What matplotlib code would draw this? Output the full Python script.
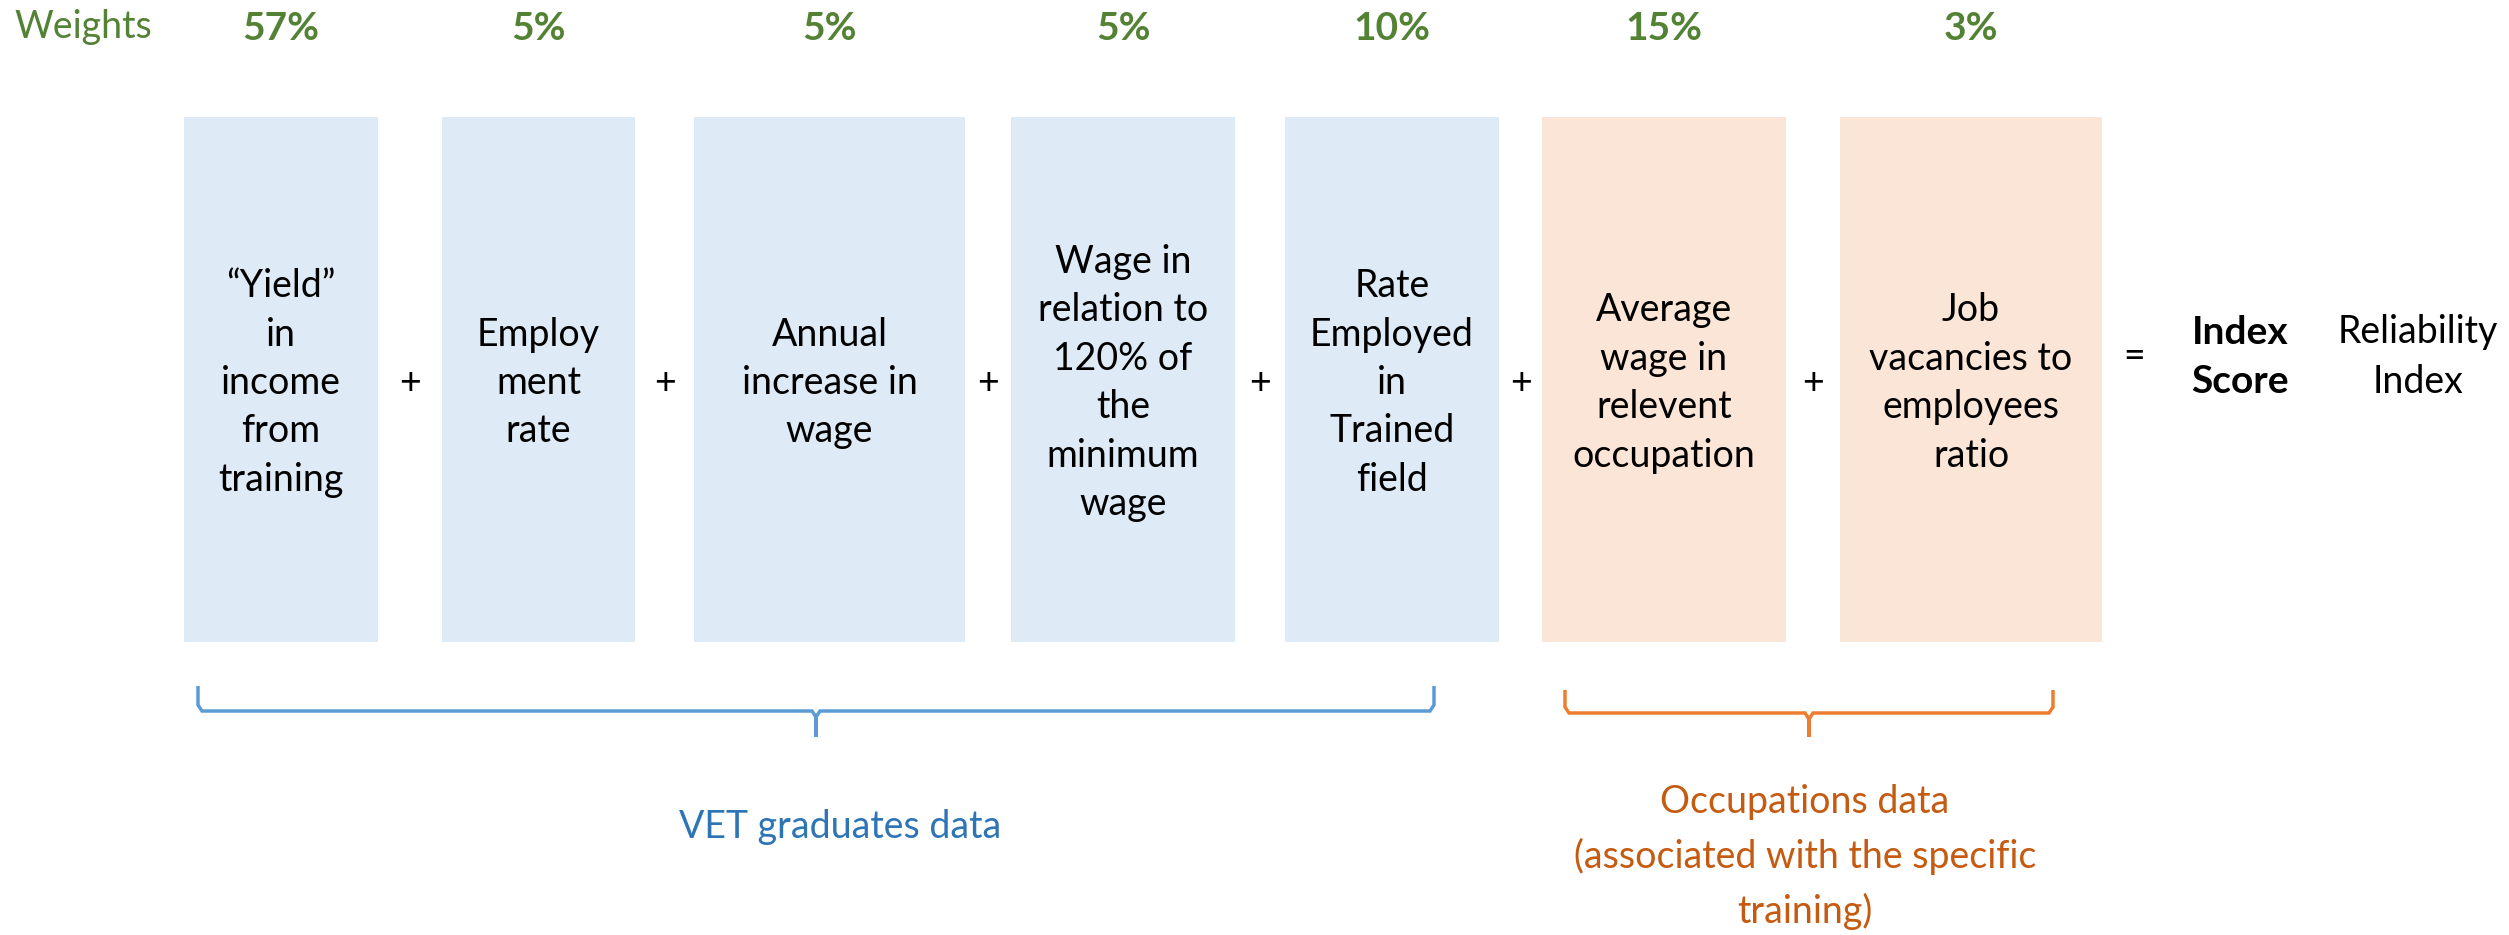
import matplotlib.pyplot as plt
from matplotlib.patches import Rectangle
from matplotlib.path import Path
from matplotlib.patches import PathPatch

# components of the index and their weights
labels = ["\u201cYield\u201d\nin\nincome\nfrom\ntraining",
          "Employ\nment\nrate",
          "Annual\nincrease in\nwage",
          "Wage in\nrelation to\n120% of\nthe\nminimum\nwage",
          "Rate\nEmployed\nin\nTrained\nfield",
          "Average\nwage in\nrelevent\noccupation",
          "Job\nvacancies to\nemployees\nratio"]
weights = ["57%", "5%", "5%", "5%", "10%", "15%", "3%"]
groups = ["vet", "vet", "vet", "vet", "vet", "occ", "occ"]
group_names = {"vet": "VET graduates data",
               "occ": "Occupations data\n(associated with the specific\ntraining)"}

# layout in pixel units
box_left = [184, 442, 694, 1011, 1285, 1542, 1840]
box_right = [378, 635, 965, 1235, 1499, 1786, 2102]
box_top, box_bot = 117, 642
fill = {"vet": "#DEEBF7", "occ": "#FBE5D6"}
brace_col = {"vet": "#5B9BD5", "occ": "#ED7D31"}
text_col = {"vet": "#2E75B6", "occ": "#C55A11"}
green = "#548235"

plt.rcParams['font.family'] = ['Lato', 'DejaVu Sans']

fig = plt.figure(figsize=(25.09, 9.35), dpi=100)
ax = fig.add_axes([0, 0, 1, 1])
ax.set_xlim(0, 2509)
ax.set_ylim(935, 0)
ax.axis('off')

fs = 27
ax.text(14, 27, "Weights", color=green, fontsize=fs, ha='left', va='center')
for i in range(len(labels)):
    l, r = box_left[i], box_right[i]
    ax.add_patch(Rectangle((l, box_top), r - l, box_bot - box_top,
                           facecolor=fill[groups[i]], edgecolor='none'))
    cx = (l + r) / 2
    ax.text(cx, 383, labels[i], ha='center', va='center', fontsize=fs,
            linespacing=1.43, color='black')
    ax.text(cx, 28, weights[i], ha='center', va='center', fontsize=fs + 1,
            fontweight='bold', color=green)
    if i < len(labels) - 1:
        px = (r + box_left[i + 1]) / 2
        ax.text(px, 383, "+", ha='center', va='center', fontsize=fs)

ax.text(2134, 357, "=", ha='center', va='center', fontsize=fs)
ax.text(2240, 357, "Index\nScore", ha='center', va='center', fontsize=fs + 1,
        fontweight='bold', linespacing=1.5)
ax.text(2418, 357, "Reliability\nIndex", ha='center', va='center',
        fontsize=fs, linespacing=1.5)


def brace(x0, x1, ytop, ymid, ytip, col):
    xm = (x0 + x1) / 2
    verts = [(x0, ytop), (x0, ymid - 6), (x0 + 4, ymid), (xm - 4, ymid),
             (xm, ymid + 6), (xm, ytip), (xm, ymid + 6), (xm + 4, ymid),
             (x1 - 4, ymid), (x1, ymid - 6), (x1, ytop)]
    ax.add_patch(PathPatch(Path(verts), fill=False, edgecolor=col, lw=2.5))
    return xm


xm = brace(198, 1434, 686, 711, 737, brace_col["vet"])
ax.text(840, 827, group_names["vet"], ha='center', va='center', fontsize=fs,
        color=text_col["vet"])
xm = brace(1565, 2053, 690, 713, 737, brace_col["occ"])
ax.text(1805, 857, group_names["occ"], ha='center', va='center', fontsize=fs,
        color=text_col["occ"], linespacing=1.6)

fig.savefig("out.png", dpi=100)
